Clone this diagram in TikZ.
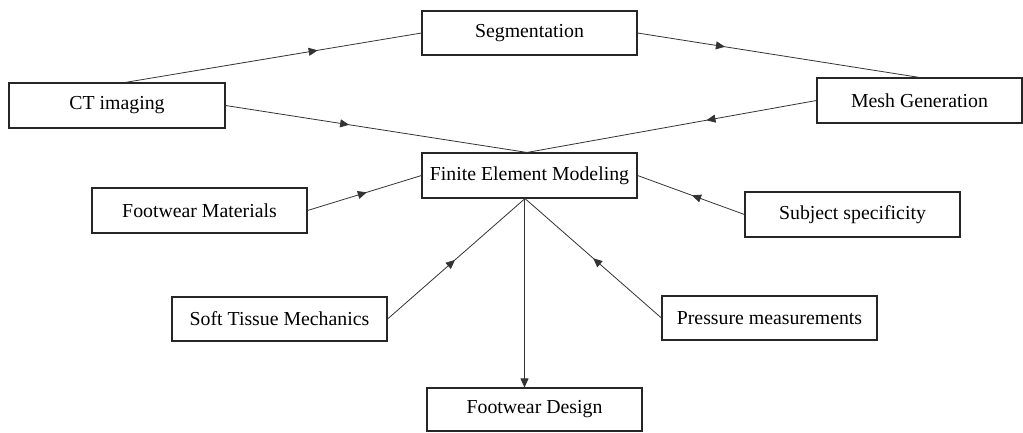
\documentclass[tikz,border=0pt]{standalone}
\usepackage{fontspec}
\setmainfont{Liberation Serif}
\usetikzlibrary{arrows.meta,decorations.markings}
\begin{document}
\begin{tikzpicture}[x=1pt,y=-1pt,
  box/.style={draw=black!85, line width=1.1pt, minimum width=215pt, minimum height=45pt, inner sep=0pt, font=\fontsize{19.8}{22}\selectfont},
  midarrow/.style={postaction={decorate}, decoration={markings, mark=at position #1 with {\arrow{Triangle[length=9pt,width=8pt]}}}},
  conn/.style={draw=black!80, line width=0.8pt}
]
\useasboundingbox (0,0) rectangle (1023,432);
\node[box, minimum height=44pt] (seg) at (529.5,33) {Segmentation};
\node[box, minimum width=216pt] (ct) at (117,105.5) {CT imaging};
\node[box] (fem) at (529.5,175.5) {Finite Element Modeling};
\node[box, minimum width=205pt] (mesh) at (919.5,100.5) {Mesh Generation};
\node[box] (fm) at (199.5,210.5) {Footwear Materials};
\node[box] (ss) at (852.5,214.5) {Subject specificity};
\node[box, minimum height=44pt] (stm) at (279.5,319) {Soft Tissue Mechanics};
\node[box, minimum height=44pt] (pm) at (769.5,318) {Pressure measurements};
\node[box, minimum height=43pt] (fd) at (534.5,409.5) {Footwear Design};

\draw[conn, midarrow=0.65] ([xshift=8pt]ct.north) -- (seg.west);
\draw[conn, midarrow=0.31] (seg.east) -- (mesh.north);
\draw[conn, midarrow=0.41] (ct.east) -- ([xshift=-2.5pt]fem.north);
\draw[conn, midarrow=0.38] (mesh.west) -- ([xshift=-2.5pt]fem.north);
\draw[conn, midarrow=0.52] (fm.east) -- (fem.west);
\draw[conn, midarrow=0.49] (ss.west) -- (fem.east);
\draw[conn, midarrow=0.49] (stm.east) -- ([xshift=-4.5pt]fem.south);
\draw[conn, midarrow=0.50] (pm.west) -- ([xshift=-4.5pt]fem.south);
\draw[conn, -{Triangle[length=9pt,width=8pt]}] ([xshift=-5pt]fem.south) -- ([xshift=-5pt]fem.south |- fd.north);
\end{tikzpicture}
\end{document}
